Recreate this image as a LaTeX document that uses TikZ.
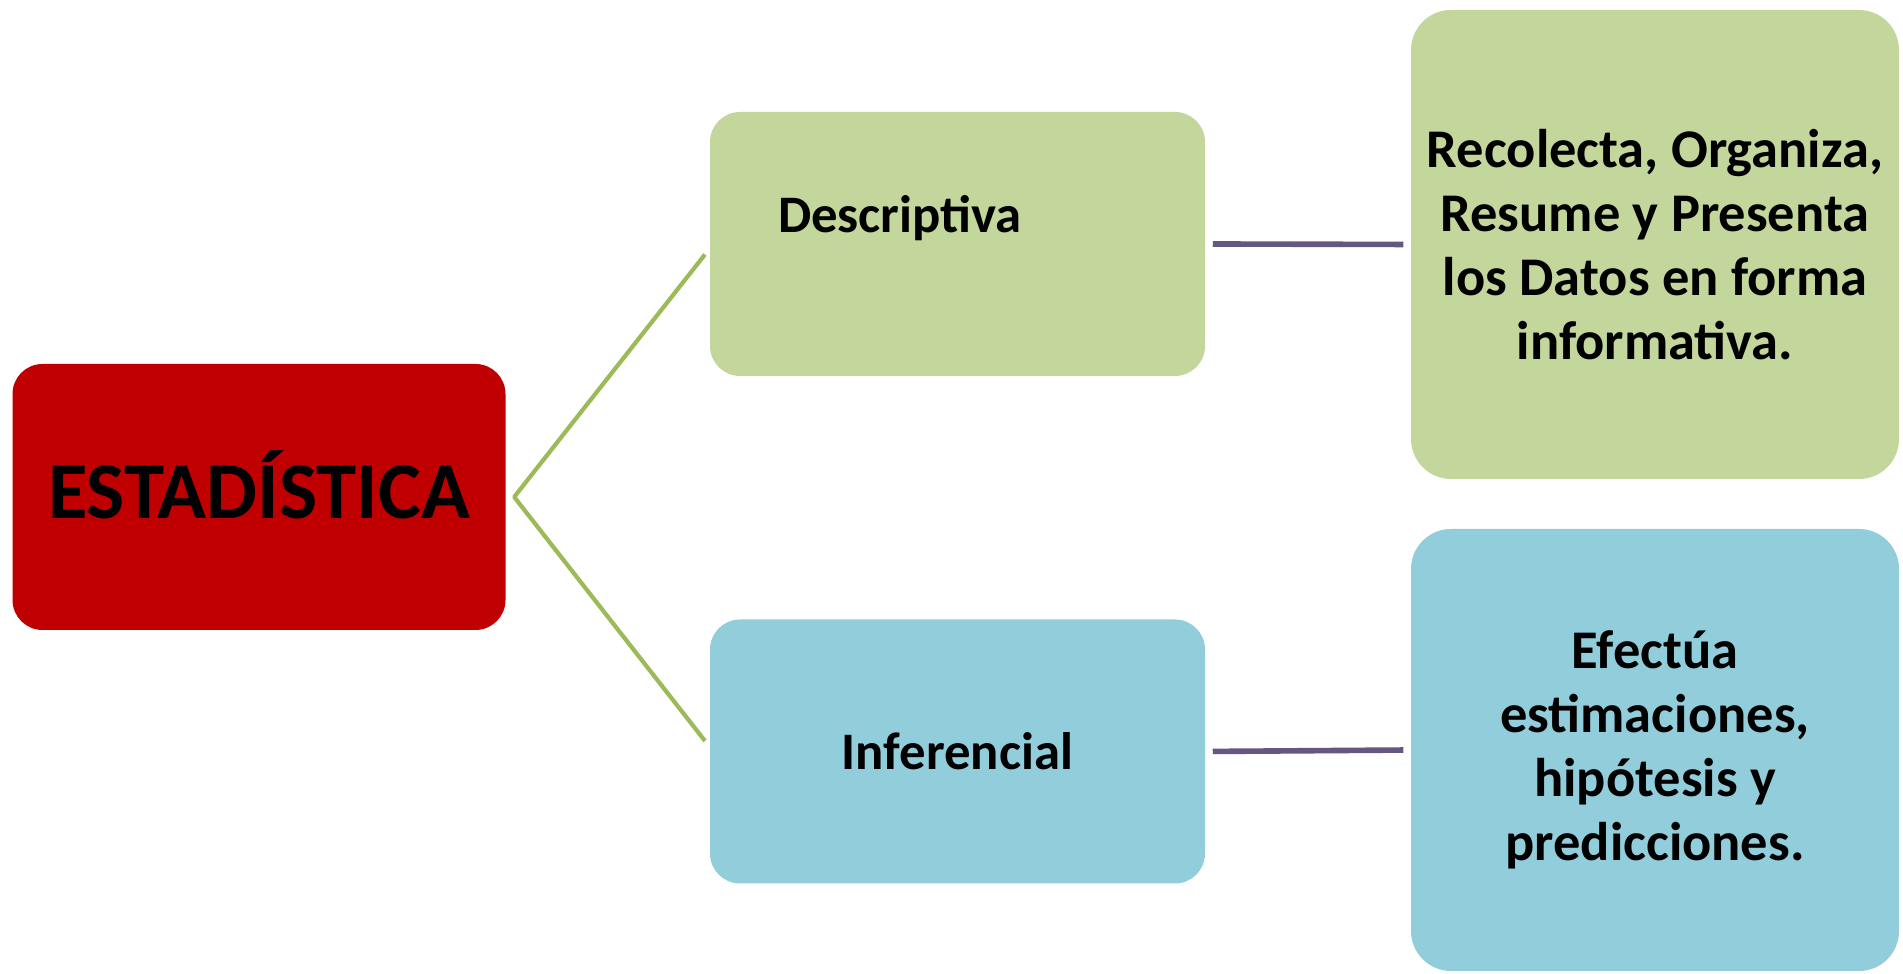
\documentclass[tikz,border=0pt]{standalone}
\usepackage{fontspec}
\setmainfont{Carlito}
\usetikzlibrary{positioning}
\definecolor{rojo}{HTML}{C00000}
\definecolor{verde}{HTML}{C3D69B}
\definecolor{azul}{HTML}{92CDDC}
\definecolor{oliva}{HTML}{9BBB59}
\definecolor{morado}{HTML}{655684}
\tikzset{
  caja/.style={rounded corners=0.3cm,inner sep=0pt,minimum width=4.95cm,minimum height=2.64cm},
  cajagrande/.style={rounded corners=0.4cm,inner sep=0pt,minimum width=4.88cm,align=center,
    font=\bfseries\fontsize{15.5}{18.2}\selectfont},
  rama/.style={oliva,line width=1.2pt,line join=round,shorten <=2pt,shorten >=2pt},
  enlace/.style={morado,line width=1.6pt,shorten <=2pt,shorten >=2pt}
}
\begin{document}
\begin{tikzpicture}
   \useasboundingbox (0,0) rectangle (19.03,9.74);
   % 本体
   \node [caja,fill=rojo,minimum width=4.93cm,minimum height=2.66cm] (est) at (2.59,4.77) {};
   \node [font=\bfseries\fontsize{23}{27}\selectfont,inner sep=0pt] (estT)
         at ([yshift=0.12cm]est.center) {ESTADÍSTICA};
   \node [caja,fill=verde] (desc) at (9.575,7.30) {};
   \node [anchor=base west,inner sep=0pt,font=\bfseries\fontsize{15}{18}\selectfont] (descT)
         at ([xshift=0.68cm,yshift=0.11cm]desc.west) {Descriptiva};
   \node [caja,fill=azul,font=\bfseries\fontsize{15}{18}\selectfont] (inf) at (9.575,2.225) {Inferencial};

   \node [cajagrande,fill=verde,minimum height=4.69cm] (datos) at (16.55,7.295)
         {Recolecta, Organiza,\\Resume y Presenta\\los Datos en forma\\informativa.};
   \node [cajagrande,fill=azul,minimum height=4.42cm] (pred) at (16.55,2.24)
         {Efectúa\\estimaciones,\\hipótesis y\\predicciones.};

   % líneas
   \coordinate (nudo) at ([xshift=0.08cm]est.east);
   \draw [rama] ([yshift=-0.05cm]desc.west) -- (nudo) -- ([yshift=0.05cm]inf.west);
   \draw [enlace] (desc.east) -- (datos.west);
   \draw [enlace] (inf.east) -- (pred.west);
\end{tikzpicture}
\end{document}
